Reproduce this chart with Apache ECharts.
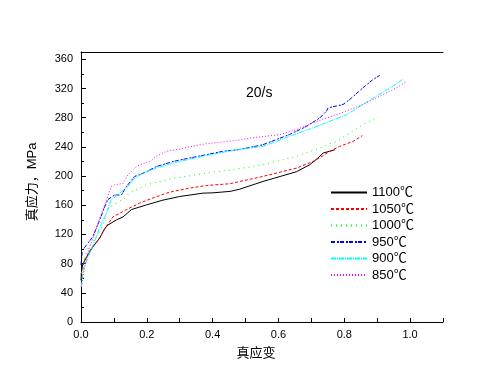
<!DOCTYPE html>
<html><head><meta charset="utf-8">
<script src="https://cdn.jsdelivr.net/npm/echarts@6/dist/echarts.min.js"></script>
<style>html,body{margin:0;padding:0;background:#fff}#c{width:478px;height:374px}</style>
</head><body><div id="c"></div>
<script>
const names = ['1100℃','1050℃','1000℃','950℃','900℃','850℃'];
const xTickLabels = ['0.0','0.2','0.4','0.6','0.8','1.0'];
const yTickLabels = ['0','40','80','120','160','200','240','280','320','360'];
const rateLabel = '20/s';
const xTitle = '真应变';
const yTitle = '真应力，MPa';

const x1100 = [0,0.002,0.006,0.021,0.036,0.057,0.072,0.082,0.108,0.128,0.153,0.199,0.249,0.30,0.371,0.401,0.453,0.482,0.553,0.655,0.695,0.720,0.736,0.756,0.771];
const y1100 = [57,72,80,92,103,115,128,133,140,144,154,160.5,167,172,176.6,177,179,182,192.6,206,215.5,224.7,231.6,234,236];

const x1050 = [0,0.011,0.030,0.052,0.077,0.097,0.138,0.178,0.219,0.26,0.28,0.33,0.381,0.452,0.553,0.655,0.705,0.736,0.756,0.786,0.827,0.855];
const y1050 = [65,85,100,112,131,144,154,163,170,176.6,179,183.5,187,189.5,199.5,211,220,228,234,240.7,247.6,255.4];

const x1000 = [0,0.01,0.02,0.035,0.057,0.067,0.082,0.108,0.133,0.148,0.199,0.27,0.381,0.462,0.553,0.655,0.726,0.776,0.817,0.857,0.903];
const y1000 = [60,85,100,110,124,135,156,163,170,177,188,196,204,208.7,215.5,227,238.5,247.6,259,270.6,281];

const x950 = [0,0.004,0.016,0.036,0.057,0.072,0.082,0.102,0.123,0.138,0.163,0.178,0.199,0.229,0.28,0.33,0.381,0.432,0.477,0.553,0.634,0.685,0.726,0.746,0.751,0.796,0.817,0.857,0.888,0.908];
const y950 = [78,98,105,117,140,158,168,174,174,185.7,199.5,201.8,206,213,220,224.7,229.3,234,236,243,257,268,279.8,289,293.5,298,305,321,332.5,338];

const x900 = [0.001,0.006,0.026,0.047,0.062,0.077,0.092,0.118,0.143,0.158,0.188,0.229,0.28,0.381,0.472,0.553,0.634,0.705,0.807,0.888,0.948,0.979];
const y900 = [48,71,94,117,135,149,167,176.6,185.7,195,204,211,218,228.3,236,240.7,254.5,266,284,307,323,333];

const x850 = [0.001,0.011,0.026,0.042,0.062,0.077,0.092,0.102,0.128,0.143,0.168,0.188,0.209,0.229,0.26,0.30,0.33,0.381,0.432,0.477,0.513,0.604,0.655,0.716,0.786,0.857,0.908,0.959,0.987];
const y850 = [48,75.6,103,121.6,149,167,185.7,188,190,201.8,213,217,220,227,234,237,240,244.4,246.7,249,252,256.8,263.7,275,285.7,298,309.5,321,328.7];

const xs = [x1100,x1050,x1000,x950,x900,x850];
const ys = [y1100,y1050,y1000,y950,y900,y850];
const colors = ['#000000','#ff0000','#00ff00','#0000ff','#00ffff','#ff00ff'];
const dashes = ['solid',[3,2],[1,4],[4,2,2,1],[5,1,1,1],[1,2]];

const zip = (a,b)=>a.map((v,i)=>[v,b[i]]);
const font = '"Liberation Sans", Arial, "Noto Sans CJK SC", sans-serif';
const chart = echarts.init(document.getElementById('c'));
chart.setOption({
  animation:false,
  backgroundColor:'#fff',
  textStyle:{fontFamily:font,color:'#000'},
  grid:{left:81,right:35,top:52,bottom:52,containLabel:false},
  xAxis:[{
    type:'value',min:0,max:1.1,interval:0.2,position:'bottom',
    axisLine:{show:true,lineStyle:{color:'#000',width:1}},
    axisTick:{show:true,inside:true,length:4,lineStyle:{color:'#000'}},
    minorTick:{show:true,splitNumber:2,length:4,lineStyle:{color:'#000'}},
    splitLine:{show:false},
    axisLabel:{color:'#000',fontSize:11,fontFamily:font,margin:7,showMaxLabel:false,
      formatter:v=>{const i=Math.round(v/0.2);return Math.abs(v-i*0.2)<1e-6?xTickLabels[i]:'';}}
  },{
    type:'value',min:0,max:1.1,position:'top',
    axisLine:{show:true,onZero:false,lineStyle:{color:'#000',width:1}},
    axisTick:{show:false},axisLabel:{show:false},splitLine:{show:false}
  }],
  yAxis:{
    type:'value',min:0,max:370,interval:40,
    axisLine:{show:true,lineStyle:{color:'#000',width:1}},
    axisTick:{show:true,inside:true,length:5,lineStyle:{color:'#000'}},
    minorTick:{show:true,splitNumber:2,length:3,lineStyle:{color:'#000'}},
    splitLine:{show:false},
    axisLabel:{color:'#000',fontSize:11,fontFamily:font,margin:8,showMaxLabel:false,
      formatter:v=>{const i=Math.round(v/40);return Math.abs(v-i*40)<1e-6?yTickLabels[i]:'';}}
  },
  legend:{
    orient:'vertical',left:330,top:186,padding:0,itemWidth:36,itemHeight:14,itemGap:3.5,
    data:names,
    itemStyle:{opacity:0},
    textStyle:{color:'#000',fontSize:13,fontFamily:font}
  },
  series:names.map((n,k)=>({
    name:n,type:'line',xAxisIndex:0,data:zip(xs[k],ys[k]),
    showSymbol:false,symbol:'none',
    lineStyle:{color:colors[k],width:1,type:dashes[k]},
    itemStyle:{color:colors[k]}
  })),
  graphic:[
    {type:'text',x:246,y:93,style:{text:rateLabel,font:'14px '+font,fill:'#000',textAlign:'left',textVerticalAlign:'middle'}},
    {type:'text',x:256,y:353,style:{text:xTitle,font:'13px '+font,fill:'#000',textAlign:'center',textVerticalAlign:'middle'}},
    {type:'text',x:32,y:182,rotation:Math.PI/2,style:{text:yTitle,font:'13px '+font,fill:'#000',textAlign:'center',textVerticalAlign:'middle'}}
  ]
});
</script></body></html>
